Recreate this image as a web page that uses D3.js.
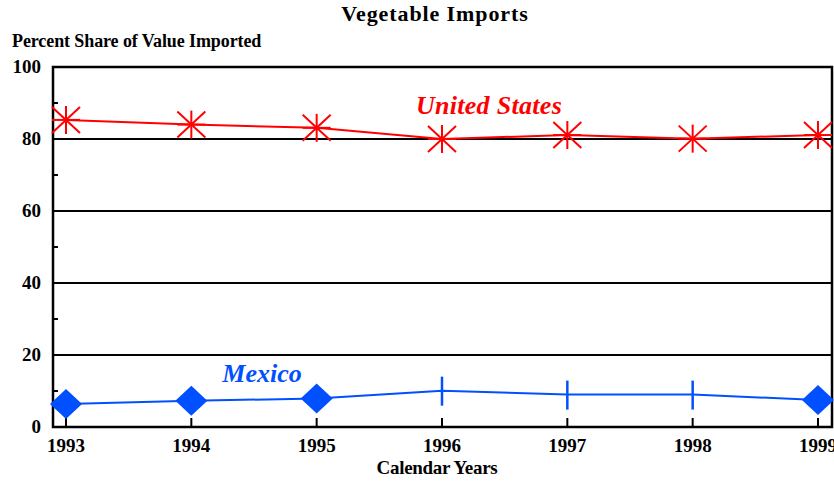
<!DOCTYPE html>
<html>
<head>
<meta charset="utf-8">
<script src="https://cdn.jsdelivr.net/npm/d3@7"></script>
<style>
  body { margin: 0; background: #fff; }
</style>
</head>
<body>
<div id="chart"></div>
<script>
const years = [1993, 1994, 1995, 1996, 1997, 1998, 1999];
const usShare = [85.3, 84.0, 83.1, 80.0, 81.1, 80.1, 81.1];
const mexShare = [6.4, 7.3, 7.9, 10.1, 9.0, 9.0, 7.5];
// marker per year for Mexico: diamond or vertical tick
const mexMarks = ['d', 'd', 'd', '|', '|', '|', 'd'];
const yTicks = [0, 20, 40, 60, 80, 100];
const yMinor = [10, 30, 50, 70, 90];

const W = 834, H = 482;
const M = { top: 67, right: 2, bottom: 55, left: 53 };
const w = W - M.left - M.right, h = H - M.top - M.bottom;
const RED = '#ff0000', BLUE = '#0050ff';

const svg = d3.select('#chart').append('svg').attr('width', W).attr('height', H)
  .attr('font-family', "'Liberation Serif', Tinos, 'DejaVu Serif', serif").attr('font-weight', 'bold');
const g = svg.append('g').attr('transform', `translate(${M.left},${M.top})`);

const x = d3.scalePoint().domain(years).range([13, w - 14]);
const y = d3.scaleLinear().domain([0, 100]).range([h, 0]);

svg.append('text').attr('x', 435).attr('y', 21).attr('text-anchor', 'middle')
  .attr('font-size', 22).attr('letter-spacing', 0.9).text('Vegetable Imports');
svg.append('text').attr('x', 12).attr('y', 47).attr('font-size', 18)
  .attr('letter-spacing', -0.1).text('Percent Share of Value Imported');
svg.append('text').attr('x', 437).attr('y', 474).attr('text-anchor', 'middle')
  .attr('font-size', 19).attr('letter-spacing', -0.3).text('Calendar Years');

// gridlines
g.append('g').selectAll('line').data(yTicks.filter(d => d > 0 && d < 100)).enter().append('line')
  .attr('x1', 0).attr('x2', w).attr('y1', d => y(d)).attr('y2', d => y(d))
  .attr('stroke', '#000').attr('stroke-width', 2);

// frame
g.append('rect').attr('x', 0).attr('y', 0).attr('width', w).attr('height', h)
  .attr('fill', 'none').attr('stroke', '#000').attr('stroke-width', 2.5);

// minor ticks on y (inside)
g.append('g').selectAll('line').data(yMinor).enter().append('line')
  .attr('x1', 0).attr('x2', 5).attr('y1', d => y(d)).attr('y2', d => y(d))
  .attr('stroke', '#000').attr('stroke-width', 2);

// year ticks (inside, upward)
g.append('g').selectAll('line').data(years).enter().append('line')
  .attr('x1', d => x(d)).attr('x2', d => x(d)).attr('y1', h).attr('y2', h - 9)
  .attr('stroke', '#000').attr('stroke-width', 2);

// y labels
g.append('g').selectAll('text').data(yTicks).enter().append('text')
  .attr('x', -12).attr('y', d => y(d) + 6).attr('text-anchor', 'end')
  .attr('font-size', 19).text(d => d);

// x labels
g.append('g').selectAll('text').data(years).enter().append('text')
  .attr('x', d => x(d)).attr('y', h + 25).attr('text-anchor', 'middle')
  .attr('font-size', 19).text(d => d);

const line = d3.line().x(d => x(d[0])).y(d => y(d[1]));

// United States
const us = years.map((yr, i) => [yr, usShare[i]]);
g.append('path').datum(us).attr('d', line).attr('fill', 'none')
  .attr('stroke', RED).attr('stroke-width', 2);
const star = g.append('g').selectAll('g').data(us).enter().append('g')
  .attr('transform', d => `translate(${x(d[0])},${y(d[1])})`)
  .attr('stroke', RED).attr('stroke-width', 2);
star.append('line').attr('x1', 0).attr('x2', 0).attr('y1', -14).attr('y2', 14);
star.append('line').attr('x1', -14).attr('x2', 14).attr('y1', 0).attr('y2', 0);
star.append('line').attr('x1', -14).attr('x2', 14).attr('y1', -13).attr('y2', 13);
star.append('line').attr('x1', -14).attr('x2', 14).attr('y1', 13).attr('y2', -13);

// Mexico
const mx = years.map((yr, i) => [yr, mexShare[i], mexMarks[i]]);
g.append('path').datum(mx).attr('d', line).attr('fill', 'none')
  .attr('stroke', BLUE).attr('stroke-width', 2);
g.append('g').selectAll('path').data(mx.filter(d => d[2] === 'd')).enter().append('path')
  .attr('transform', d => `translate(${x(d[0])},${y(d[1])})`)
  .attr('d', 'M0,-15L16,0L0,15L-16,0Z').attr('fill', BLUE);
g.append('g').selectAll('line').data(mx.filter(d => d[2] === '|')).enter().append('line')
  .attr('x1', d => x(d[0])).attr('x2', d => x(d[0]))
  .attr('y1', d => y(d[1]) - 14).attr('y2', d => y(d[1]) + 15)
  .attr('stroke', BLUE).attr('stroke-width', 2.5);

// series labels
g.append('text').attr('x', 489 - M.left).attr('y', 114 - M.top).attr('text-anchor', 'middle')
  .attr('font-size', 26).attr('font-style', 'italic').attr('letter-spacing', 0.3)
  .attr('fill', RED).text('United States');
g.append('text').attr('x', 262 - M.left).attr('y', 382 - M.top).attr('text-anchor', 'middle')
  .attr('font-size', 26).attr('font-style', 'italic').attr('fill', BLUE).text('Mexico');
</script>
</body>
</html>
